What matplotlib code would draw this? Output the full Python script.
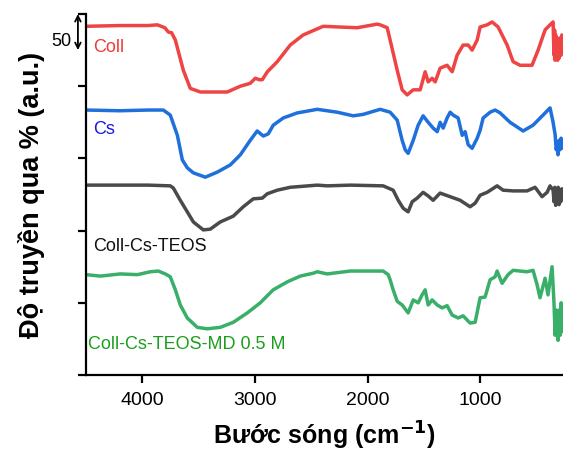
import matplotlib
matplotlib.use("Agg")
import matplotlib.pyplot as plt

plt.rcParams['font.family'] = ['Liberation Sans', 'DejaVu Sans']

# ---- data (wavenumber cm-1, offset transmittance a.u.) ----
coll_wn = [4500, 4200, 3950, 3867, 3800, 3769, 3740, 3707, 3636, 3574, 3485, 3350, 3246, 3130, 3042,
           2997, 2960, 2935, 2890, 2802, 2687, 2572, 2394, 2250, 2092, 1915, 1888, 1826, 1800, 1737,
           1693, 1649, 1595, 1533, 1489, 1462, 1427, 1400, 1356, 1294, 1249, 1205, 1152, 1107, 1072,
           1027, 1001, 939, 894, 841, 761, 708, 646, 540, 486, 424, 380, 353,
           345, 340, 335, 330, 325, 318, 312, 305, 298, 290, 282, 275, 265]
coll_t = [483, 484, 484, 485, 481, 475, 474, 464, 422, 397, 392, 392, 392, 400, 404,
          411, 409, 409, 420, 434, 457, 471, 483, 482, 481, 486, 485, 481, 464, 422,
          395, 388, 395, 395, 420, 406, 411, 406, 425, 429, 420, 443, 457, 457, 450,
          464, 482, 485, 489, 482, 457, 434, 429, 429, 450, 478, 485, 489,
          443, 478, 436, 471, 439, 467, 436, 464, 439, 467, 443, 471, 450]

cs_wn = [4500, 4200, 3950, 3814, 3752, 3689, 3645, 3601, 3547, 3441, 3335, 3219, 3130, 3042, 2980,
         2926, 2882, 2838, 2749, 2625, 2447, 2270, 2128, 2039, 1888, 1800, 1737, 1693, 1666, 1640,
         1595, 1551, 1507, 1462, 1418, 1382, 1356, 1329, 1294, 1267, 1240, 1196, 1160, 1134, 1107,
         1072, 1027, 1001, 974, 912, 868, 823, 735, 619, 531, 442, 380, 353,
         335, 325, 318, 309, 300, 291, 282, 275, 265]
cs_t = [367, 366, 367, 367, 360, 332, 298, 287, 280, 274, 281, 291, 305, 325, 338,
        331, 334, 346, 356, 363, 368, 364, 359, 361, 368, 364, 353, 325, 312, 307,
        325, 346, 359, 350, 342, 337, 350, 342, 356, 364, 360, 356, 332, 337, 319,
        314, 328, 339, 356, 364, 367, 363, 350, 338, 346, 360, 370, 350,
        333, 312, 319, 305, 325, 312, 328, 314, 319]

teos_wn = [4500, 4200, 3950, 3752, 3725, 3663, 3601, 3547, 3459, 3397, 3308, 3193, 3104, 3015, 2935,
           2891, 2802, 2687, 2447, 2358, 2154, 1862, 1773, 1728, 1684, 1640, 1604, 1560, 1507, 1462,
           1418, 1356, 1267, 1178, 1090, 1045, 1001, 939, 850, 797, 708, 584, 513, 451, 406, 380, 353,
           345, 338, 330, 322, 315, 308, 300, 292, 285, 275, 265]
teos_t = [263, 263, 263, 262, 259, 242, 226, 212, 201, 202, 212, 220, 233, 244, 245,
          251, 256, 260, 263, 262, 263, 262, 256, 242, 231, 226, 240, 245, 253, 248,
          242, 252, 247, 242, 233, 238, 249, 253, 262, 256, 255, 255, 260, 247, 253, 262, 256,
          240, 260, 235, 258, 238, 260, 236, 256, 240, 258, 245]

md_wn = [4500, 4373, 4195, 4044, 3929, 3858, 3796, 3752, 3707, 3663, 3601, 3512, 3423, 3308, 3193,
         3068, 2953, 2838, 2713, 2598, 2483, 2447, 2358, 2154, 1862, 1817, 1800, 1773, 1737, 1693,
         1640, 1595, 1551, 1516, 1489, 1462, 1427, 1382, 1338, 1294, 1249, 1196, 1152, 1090, 1045,
         1001, 957, 912, 868, 850, 806, 753, 708, 584, 531, 495, 469, 424, 398, 362,
         345, 335, 325, 318, 309, 300, 291, 282, 275, 265]
md_t = [139, 137, 140, 139, 143, 144, 140, 136, 118, 97, 79, 66, 64, 66, 73,
        86, 100, 118, 129, 137, 141, 143, 140, 144, 144, 139, 132, 118, 102, 97,
        86, 104, 100, 111, 118, 97, 104, 97, 93, 96, 83, 79, 82, 72, 73,
        107, 108, 132, 136, 144, 127, 139, 145, 143, 145, 125, 107, 134, 111, 150,
        100, 55, 90, 83, 48, 90, 55, 100, 60, 85]

series = [
    (coll_wn, coll_t, '#ee4444', 'Coll', '#ee3b3b', 453, 4435),
    (cs_wn, cs_t, '#1f6fdc', 'Cs', '#1717e6', 340, 4435),
    (teos_wn, teos_t, '#4a4a4a', 'Coll-Cs-TEOS', '#111111', 178, 4435),
    (md_wn, md_t, '#3aaf6a', 'Coll-Cs-TEOS-MD 0.5 M', '#1c9e1c', 42, 4479),
]

fig = plt.figure(figsize=(5.63, 4.55), dpi=100)
ax = fig.add_axes([0.1528, 0.1758, 0.8472, 0.7934])

for wn, t, c, lab, lc, ly, lx in series:
    ax.plot(wn, t, color=c, lw=2.5, solid_joinstyle='round', solid_capstyle='round')
    ax.text(lx, ly, lab, color=lc, fontsize=13, ha='left', va='center')

ax.set_xlim(4500, 265)
ax.set_ylim(0, 500)
ax.set_xticks([4000, 3000, 2000, 1000])
ax.set_yticks([0, 100, 200, 300, 400, 500])
ax.set_yticklabels([])
ax.tick_params(axis='x', labelsize=14, width=1.6, length=6, direction='out', pad=6)
ax.tick_params(axis='y', width=1.6, length=6, direction='out')
for s in ['top', 'right']:
    ax.spines[s].set_visible(False)
for s in ['left', 'bottom']:
    ax.spines[s].set_linewidth(1.6)

ax.set_xlabel('Bước sóng (cm$^{\\mathbf{-1}}$)', fontsize=18, fontweight='bold', labelpad=8)
ax.set_ylabel('Độ truyền qua % (a.u.)', fontsize=19.5, fontweight='bold', labelpad=20)

# scale bar arrow (50 a.u.)
tr = ax.get_yaxis_transform()
ax.annotate('', xy=(-0.017, 500), xytext=(-0.017, 450), xycoords=tr, textcoords=tr,
            arrowprops=dict(arrowstyle='<->', color='black', lw=1.3, shrinkA=0, shrinkB=0,
                            mutation_scale=10), annotation_clip=False)
ax.text(-0.03, 462, '50', transform=tr, ha='right', va='center', fontsize=13, clip_on=False)

fig.savefig('out.png', dpi=100)
